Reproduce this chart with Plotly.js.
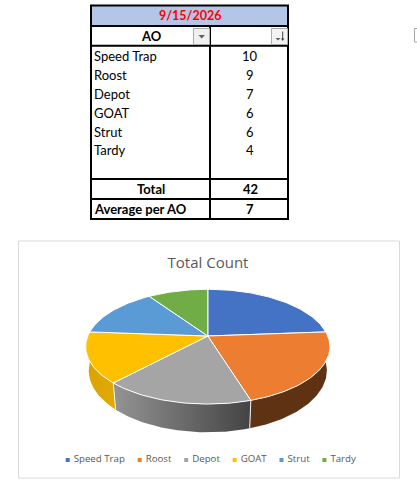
<!DOCTYPE html>
<html>
<head>
<meta charset="utf-8">
<script src="https://cdn.plot.ly/plotly-3.0.1.min.js"></script>
<style>html,body{margin:0;padding:0;background:#fff;overflow:hidden}#chart{width:417px;height:484px}</style>
</head>
<body>
<div id="chart"></div>
<script>
var categories = ["Speed Trap", "Roost", "Depot", "GOAT", "Strut", "Tardy"];
var counts = [10, 9, 7, 6, 6, 4];
var dateLabel = "9/15/2026";
var headerLabel = "AO";
var totalLabel = "Total";
var totalValue = 42;
var averageLabel = "Average per AO";
var averageValue = 7;
var chartTitle = "Total Count";
var sliceColors = ["#4472C4", "#ED7D31", "#A5A5A5", "#FFC000", "#5B9BD5", "#70AD47"];

// Perspective model of the pie
var P = {cx: 207.8, cy: 336, a: 120, b: 55.4, p: 0.186, depth: 23, shrink: 0.975};
function topPt(t) {
  var u = Math.sin(t), v = Math.cos(t), k = 1 + P.p * v;
  return [P.cx + P.a * u / k, P.cy - P.b * v / k];
}
function botPt(t) {
  var u = Math.sin(t), v = Math.cos(t), k = 1 + P.p * v;
  return [P.cx + P.shrink * P.a * u / k, P.cy - P.b * v / k + P.depth / k];
}
function arc(fn, t0, t1) {
  var out = [], n = Math.max(2, Math.ceil((t1 - t0) / 0.02));
  for (var i = 0; i <= n; i++) out.push(fn(t0 + (t1 - t0) * i / n));
  return out;
}
var total = counts.reduce(function (a, b) { return a + b; }, 0);
var bounds = [0];
counts.forEach(function (c, i) { bounds.push(bounds[i] + c / total * 2 * Math.PI); });

var traces = [];
function poly(pts, extra) {
  var t = {x: pts.map(function (q) { return q[0]; }), y: pts.map(function (q) { return q[1]; }),
    mode: "lines", fill: "toself", hoverinfo: "skip", showlegend: false, line: {width: 0}};
  for (var k in extra) t[k] = extra[k];
  traces.push(t);
}
// Side walls
var sideStyle = [
  null,
  {fillcolor: "#5F3214"},
  {fillgradient: {type: "horizontal", start: 116, stop: 250, colorscale: [[0, "#929292"], [1, "#444444"]]}},
  {fillgradient: {type: "horizontal", start: 86, stop: 116, colorscale: [[0, "#D9A200"], [1, "#E2AA00"]]}},
  null, null
];
counts.forEach(function (c, i) {
  if (!sideStyle[i]) return;
  var pts = arc(topPt, bounds[i], bounds[i + 1]).concat(arc(botPt, bounds[i], bounds[i + 1]).reverse());
  pts.push(pts[0]);
  poly(pts, sideStyle[i]);
});
// Dividers on the walls
[2, 3].forEach(function (i) {
  var a = topPt(bounds[i]), b = botPt(bounds[i]);
  traces.push({x: [a[0], b[0]], y: [a[1], b[1]], mode: "lines", hoverinfo: "skip", showlegend: false,
    line: {color: "#F2F2F2", width: 1}});
});
// Top slices
counts.forEach(function (c, i) {
  var pts = [[P.cx, P.cy]].concat(arc(topPt, bounds[i], bounds[i + 1]));
  pts.push([P.cx, P.cy]);
  poly(pts, {name: categories[i], fillcolor: sliceColors[i], line: {color: "#FFFFFF", width: 1}});
});

// Legend drawn as markers and labels, spaced from the measured label widths
var legendSize = 9.7;
var ctx = document.createElement("canvas").getContext("2d");
ctx.font = legendSize + 'px "Open Sans"';
var lx = [], cursor = 67.7;
categories.forEach(function (c) { lx.push(cursor); cursor += 6 + ctx.measureText(c).width + 14.8; });
var legendY = categories.map(function () { return 460; });
traces.push({x: lx, y: legendY, mode: "markers", hoverinfo: "skip", showlegend: false, cliponaxis: false,
  marker: {symbol: "square", size: 4, color: sliceColors}});
traces.push({x: lx.map(function (v) { return v + 6; }), y: legendY, text: categories,
  mode: "text", textposition: "middle right", hoverinfo: "skip", showlegend: false, cliponaxis: false,
  textfont: {family: "Open Sans", size: legendSize, color: "#595959"}});

// Table
var X0 = 91, X1 = 210, X2 = 288;
var rowY = [5.5, 26, 45.7, 179, 199, 219];
var shapes = [];
function rect(x0, y0, x1, y1, fill, lineColor, w, layer) {
  shapes.push({type: "rect", x0: x0, y0: y0, x1: x1, y1: y1, xref: "x", yref: "y", fillcolor: fill,
    line: {color: lineColor, width: w}, layer: layer || "above"});
}
function seg(x0, y0, x1, y1, color, w) {
  shapes.push({type: "line", x0: x0, y0: y0, x1: x1, y1: y1, xref: "x", yref: "y", line: {color: color, width: w}, layer: "above"});
}
function tri(path, color) {
  shapes.push({type: "path", path: path, xref: "x", yref: "y", fillcolor: color, line: {width: 0}, layer: "above"});
}
rect(18.5, 241, 399.5, 478, "rgba(0,0,0,0)", "#D9D9D9", 1, "below");
rect(X0, rowY[0], X2, rowY[1], "#B4C6E7", "rgba(0,0,0,0)", 0, "below");
rect(X0, rowY[0], X2, rowY[5], "rgba(0,0,0,0)", "#000000", 2);
rowY.slice(1, 5).forEach(function (y) { seg(X0, y, X2, y, "#000000", 2); });
seg(X1, rowY[1], X1, rowY[5], "#000000", 2);
// Filter buttons
rect(193.5, 28.5, 209.5, 44.5, "#F0F0F0", "#ABABAB", 1);
tri("M198.5,35 L205,35 L201.7,38.5 Z", "#5F5F5F");
rect(271.5, 28.5, 287.5, 44.5, "#F3F3F3", "#ABABAB", 1);
tri("M275.5,38 L280.5,38 L278,40.5 Z", "#5F5F5F");
seg(282.7, 31.5, 282.7, 40, "#404040", 1);
tri("M281,38.5 L284.4,38.5 L282.7,41 Z", "#404040");
// Stray cell mark at the window edge
seg(414.5, 28.5, 414.5, 42, "#A6A6A6", 1);
seg(414.5, 28.5, 417, 28.5, "#A6A6A6", 1);
seg(414.5, 42, 417, 42, "#A6A6A6", 1);

var tableFamily = "Lato";
function note(text, x, y, anchor, bold, color, size) {
  return {text: bold ? "<b>" + text + "</b>" : String(text), x: x, y: y, xref: "x", yref: "y", xanchor: anchor,
    yanchor: "middle", showarrow: false, borderpad: 0,
    font: {family: tableFamily, size: size || 13, color: color || "#000000"}};
}
var annotations = [];
annotations.push(note(dateLabel, (X0 + X2) / 2, 15.8, "center", true, "#FF0000", 12.5));
annotations.push(note(headerLabel, 151.7, 36, "center", true));
categories.forEach(function (c, i) {
  var y = 56.2 + i * 18.85;
  annotations.push(note(c, 92.5, y, "left", false));
  annotations.push(note(counts[i], 250, y, "center", false));
});
annotations.push(note(totalLabel, 151.3, 188.8, "center", true));
annotations.push(note(totalValue, 250, 188.8, "center", true));
annotations.push(note(averageLabel, 92.5, 209, "left", true));
annotations.push(note(averageValue, 250, 209, "center", true));

var layout = {
  width: 417, height: 484, margin: {l: 0, r: 0, t: 0, b: 0},
  paper_bgcolor: "#FFFFFF", plot_bgcolor: "#FFFFFF", showlegend: false,
  title: {text: chartTitle, x: 208 / 417, xanchor: "center", y: 1 - 263 / 484, yanchor: "middle",
    font: {family: "Open Sans", size: 15, color: "#595959"}},
  xaxis: {range: [0, 417], visible: false, fixedrange: true},
  yaxis: {range: [484, 0], visible: false, fixedrange: true},
  shapes: shapes, annotations: annotations
};
Plotly.newPlot("chart", traces, layout, {displayModeBar: false, staticPlot: true});
</script>
</body>
</html>
